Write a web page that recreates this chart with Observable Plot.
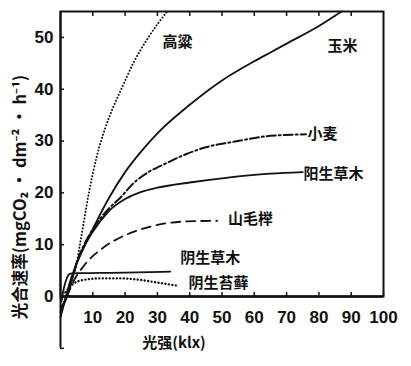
<!DOCTYPE html>
<html>
<head>
<meta charset="utf-8">
<script src="https://cdn.jsdelivr.net/npm/d3@7"></script>
<script src="https://cdn.jsdelivr.net/npm/@observablehq/plot@0.6"></script>
<style>
  html, body { margin: 0; padding: 0; background: #fff; }
  svg { display: block; }
</style>
</head>
<body>
<div id="chart"></div>
<script>
// Tick values
const xTicks = [10, 20, 30, 40, 50, 60, 70, 80, 90, 100];
const xTopTicks = [10, 20, 30, 40, 50, 60, 70, 80, 90];
const yTicks = [0, 10, 20, 30, 40, 50];
const yEndTick = [-10];

// Series (light intensity klx, photosynthesis rate)
const sorghumX = [1.2, 2, 3.2, 4.6, 6, 8.8, 11.3, 13.9, 16.5, 18.6, 22.5, 27.2, 33];
const sorghumY = [-1, 0.5, 2.8, 5.2, 10, 20, 27.2, 32.6, 36.8, 39.7, 45, 50, 55];

const cornX = [0, 1.5, 3, 5, 10, 15, 20, 25, 30, 40, 50, 60, 65, 70, 80, 87];
const cornY = [-4, -0.5, 3, 6.3, 13, 19, 24, 28, 31.5, 37, 41.7, 45.4, 47.1, 48.8, 52.2, 55];

const wheatX = [0.3, 2, 5, 10, 15, 18.6, 22, 28, 31, 39, 45, 54, 65, 76];
const wheatY = [-2, 0, 6.5, 13, 17, 19.1, 21.5, 24.3, 25.2, 27.5, 28.8, 29.9, 31, 31.3];

const sunGrassX = [0, 2, 5, 10, 15, 20, 25, 30, 40, 50, 65, 75];
const sunGrassY = [-3, 0, 6.5, 12.5, 16.5, 18.8, 20.2, 21, 22, 22.8, 23.7, 24];

const beechX = [2, 4.1, 7.2, 13.4, 19.6, 27.9, 39.2, 48.5];
const beechY = [0, 3, 5.9, 9.5, 11.7, 13.5, 14.5, 14.6];

const shadeGrassX = [0.3, 1, 2, 3, 5, 20, 34];
const shadeGrassY = [-1, 1.5, 3.6, 4.4, 4.5, 4.6, 4.8];

const mossX = [1.5, 4.1, 7.2, 12.4, 18.6, 24.8, 29.9, 36.1];
const mossY = [0.8, 2.5, 3.2, 3.5, 3.5, 3.2, 2.7, 2.1];

// Curve labels
const labelNames = ["高粱", "玉米", "小麦", "阳生草木", "山毛榉", "阴生草木", "阴生苔藓"];
const labelX = [36.2, 87.3, 81.1, 84.5, 58.8, 46.4, 48.9];
const labelY = [49, 48.4, 31.4, 23.6, 15, 7.3, 2.5];

const yTitle = "光合速率(mgCO₂ · dm⁻² · h⁻¹)";
const xTitle = "光强(klx)";

const rows = (xs, ys) => xs.map((x, i) => ({x, y: ys[i]}));
const labels = labelNames.map((t, i) => ({t, x: labelX[i], y: labelY[i]}));

const numFont = "'Liberation Sans Narrow', 'Arial Narrow', 'Liberation Sans', Arial, sans-serif";
const cjkFont = "'Noto Sans CJK SC', 'Noto Sans', sans-serif";

const lineOpts = {x: "x", y: "y", stroke: "#111", curve: "monotone-x"};

const chart = Plot.plot({
  width: 411,
  height: 366,
  marginLeft: 60,
  marginRight: 28,
  marginTop: 11,
  marginBottom: 70,
  x: {domain: [0, 100]},
  y: {domain: [0, 55]},
  style: {background: "#fff", color: "#111"},
  marks: [
    Plot.line(rows(sorghumX, sorghumY), {...lineOpts, strokeWidth: 2, strokeDasharray: "0.1,3.2", strokeLinecap: "round"}),
    Plot.line(rows(cornX, cornY), {...lineOpts, strokeWidth: 1.8}),
    Plot.line(rows(wheatX, wheatY), {...lineOpts, strokeWidth: 2, strokeDasharray: "9,3,2,3"}),
    Plot.line(rows(sunGrassX, sunGrassY), {...lineOpts, strokeWidth: 1.8}),
    Plot.line(rows(beechX, beechY), {...lineOpts, strokeWidth: 1.8, strokeDasharray: "9,6"}),
    Plot.line(rows(shadeGrassX, shadeGrassY), {...lineOpts, strokeWidth: 1.8}),
    Plot.line(rows(mossX, mossY), {...lineOpts, strokeWidth: 2.4, strokeDasharray: "0.1,3.4", strokeLinecap: "round"}),
    Plot.frame({stroke: "#111", strokeWidth: 2}),
    Plot.ruleX([0], {y1: -10, y2: 55, stroke: "#111", strokeWidth: 2}),
    Plot.ruleY([0], {stroke: "#111", strokeWidth: 2.5}),
    Plot.axisX(xTicks, {anchor: "bottom", tickSize: -4, tickPadding: 18, label: null,
      fontSize: 17, fontWeight: "bold", fontFamily: numFont, strokeWidth: 1.5}),
    Plot.axisX(xTopTicks, {anchor: "top", tickSize: -4, tickFormat: () => "", label: null, strokeWidth: 1.5}),
    Plot.axisY(yTicks, {anchor: "left", tickSize: -4, tickPadding: 11, label: null,
      fontSize: 17, fontWeight: "bold", fontFamily: numFont, strokeWidth: 1.5}),
    Plot.axisY(yEndTick, {anchor: "left", tickSize: -4, tickFormat: () => "", label: null, strokeWidth: 1.5}),
    Plot.text(labels, {x: "x", y: "y", text: "t", fontSize: 15, fontWeight: "bold", fontFamily: cjkFont, fill: "#111"}),
    Plot.text([yTitle], {frameAnchor: "left", textAnchor: "middle", rotate: -90, dx: -40, dy: 43, fontSize: 16.5, fontWeight: "bold", fontFamily: cjkFont, fill: "#111"}),
    Plot.text([xTitle], {frameAnchor: "bottom", dx: -48, dy: 51, fontSize: 15, fontWeight: "bold", fontFamily: cjkFont, fill: "#111"})
  ]
});
document.getElementById("chart").appendChild(chart);
</script>
</body>
</html>
